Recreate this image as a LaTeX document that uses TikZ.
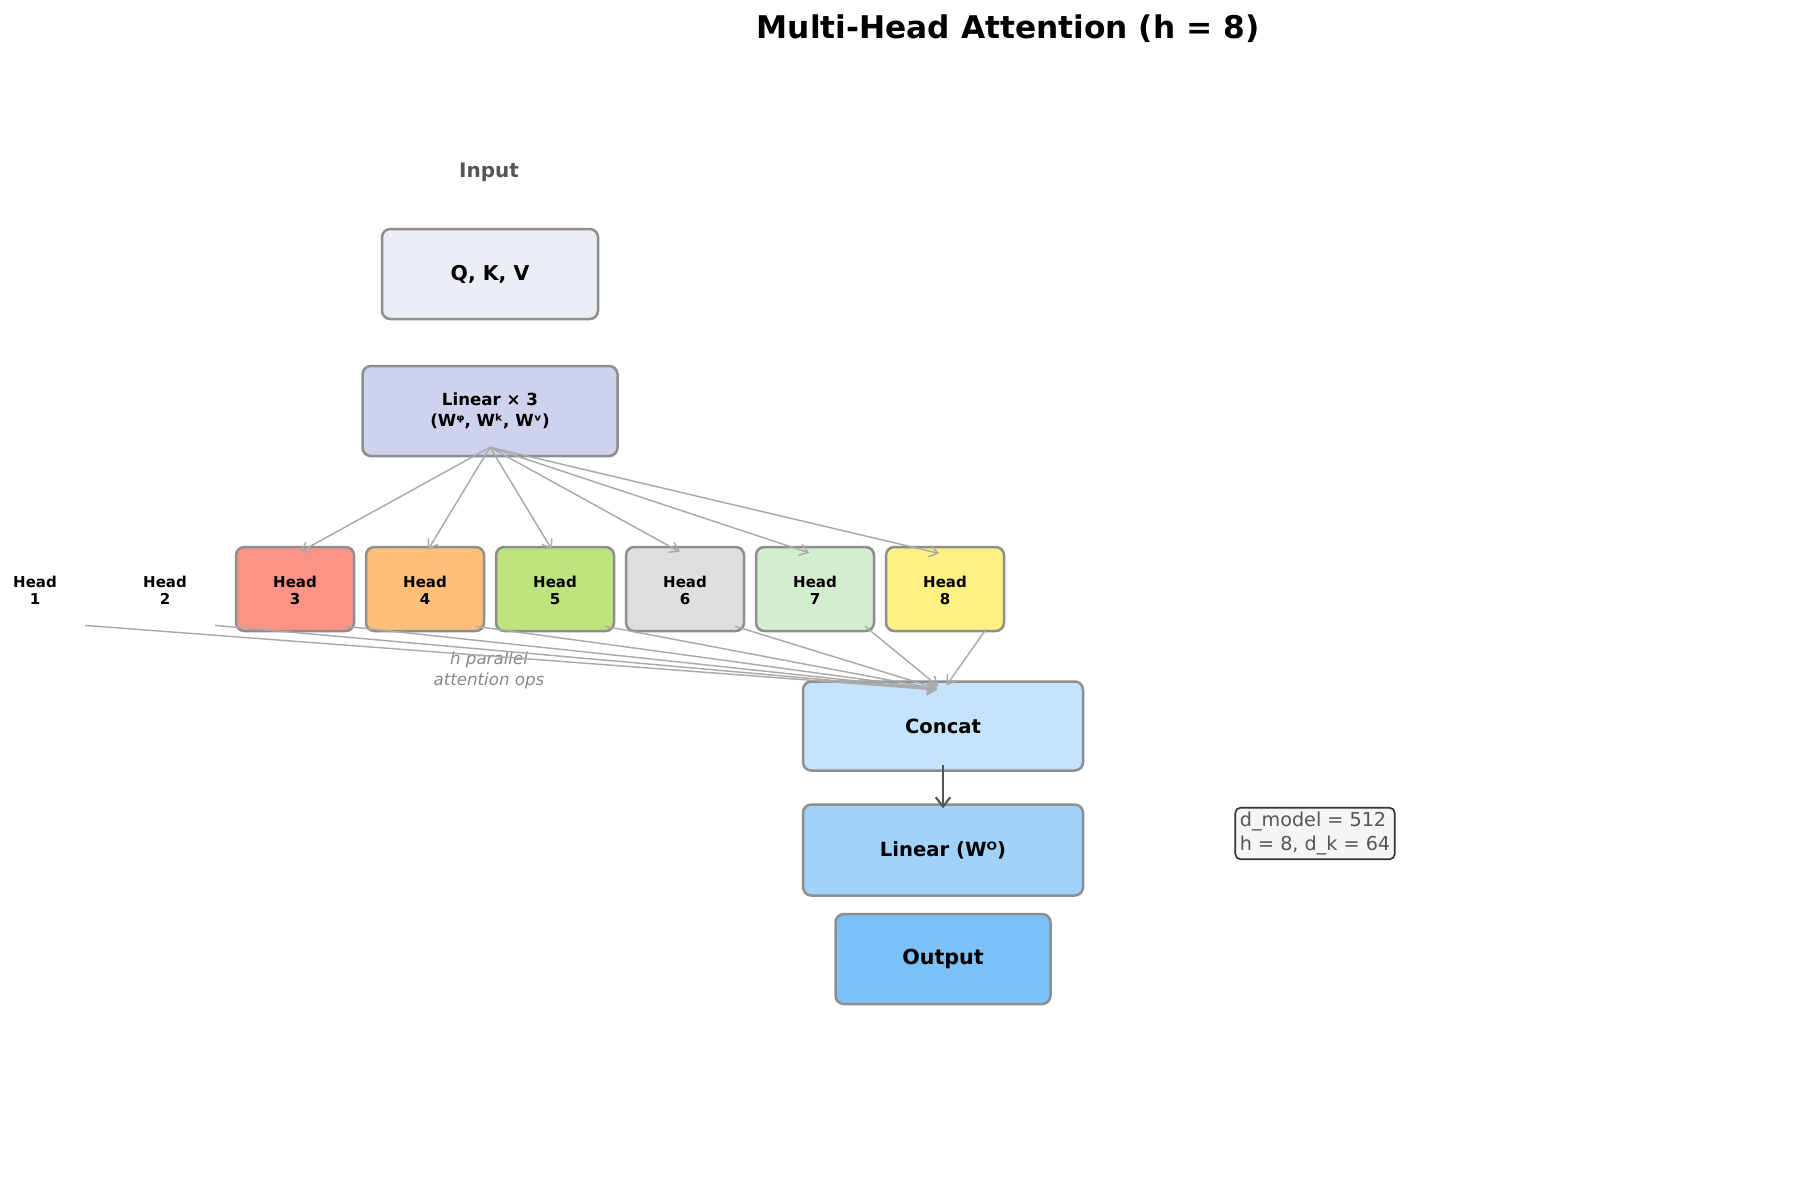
\documentclass[tikz,border=0pt]{standalone}
\usepackage{fontspec}
\setmainfont{DejaVu Sans}
\usetikzlibrary{arrows.meta,calc}
\definecolor{edgegray}{HTML}{8E8E8E}
\definecolor{fangray}{HTML}{AAAAAA}
\definecolor{darkarrow}{HTML}{555555}
\definecolor{qkvfill}{HTML}{EBEDF7}
\definecolor{linfill}{HTML}{CED2EC}
\definecolor{hthree}{HTML}{FB9387}
\definecolor{hfour}{HTML}{FDBF79}
\definecolor{hfive}{HTML}{BEE37F}
\definecolor{hsix}{HTML}{DFDFDF}
\definecolor{hseven}{HTML}{D3EECE}
\definecolor{height}{HTML}{FFF084}
\definecolor{concatfill}{HTML}{C5E3FB}
\definecolor{linofill}{HTML}{A0D2FA}
\definecolor{outfill}{HTML}{7BC0F7}
\definecolor{notefill}{HTML}{F5F5F5}
\definecolor{notetext}{HTML}{555555}
\definecolor{notegray}{HTML}{888888}
\newcommand\headlbl[1]{\rule{0pt}{9.1pt}Head\\\strut #1}
\begin{document}
\begin{tikzpicture}[x=0.48pt,y=-0.48pt,
  box/.style={draw=edgegray,line width=1.2pt,rounded corners=4pt,inner sep=0pt,align=center},
  headbox/.style={box,minimum width=118*0.48pt,minimum height=84*0.48pt,
    font=\fontsize{7.2}{8.4}\selectfont\bfseries},
  headtext/.style={inner sep=0pt,align=center,minimum width=118*0.48pt,minimum height=84*0.48pt,
    font=\fontsize{7.2}{8.4}\selectfont\bfseries},
  fan/.style={draw=fangray,line width=0.7pt,-{Straight Barb[length=4pt,width=5.5pt]}},
  mainarrow/.style={draw=darkarrow,line width=1pt,-{Straight Barb[length=4.5pt,width=7pt]}},
]
\useasboundingbox (0,0) rectangle (1800,1180);

% title
\node[font=\fontsize{15}{18}\selectfont\bfseries] (title) at (1008,29) {Multi-Head Attention (h = 8)};

% input
\node[font=\fontsize{9.6}{11}\selectfont\bfseries,text=notetext] (input) at (489,172) {Input};
\node[box,fill=qkvfill,minimum width=216*0.48pt,minimum height=90*0.48pt,
  font=\fontsize{9.8}{12}\selectfont\bfseries] (qkv) at (490,274) {Q, K, V};
\node[box,fill=linfill,minimum width=255*0.48pt,minimum height=90*0.48pt,
  font=\fontsize{8}{10.1}\selectfont\bfseries] (lin3) at (490,411) {Linear × 3\\(Wᵠ, Wᵏ, Wᵛ)};

% heads
\node[headtext] (h1) at (35,589) {\headlbl{1}};
\node[headtext] (h2) at (165,589) {\headlbl{2}};
\node[headbox,fill=hthree] (h3) at (295,589) {\headlbl{3}};
\node[headbox,fill=hfour] (h4) at (425,589) {\headlbl{4}};
\node[headbox,fill=hfive] (h5) at (555,589) {\headlbl{5}};
\node[headbox,fill=hsix] (h6) at (685,589) {\headlbl{6}};
\node[headbox,fill=hseven] (h7) at (815,589) {\headlbl{7}};
\node[headbox,fill=height] (h8) at (945,589) {\headlbl{8}};

% lower stack
\node[box,fill=concatfill,minimum width=280*0.48pt,minimum height=89*0.48pt,
  font=\fontsize{9.4}{11}\selectfont\bfseries] (concat) at (943,726) {Concat};
\node[box,fill=linofill,minimum width=280*0.48pt,minimum height=91*0.48pt,
  font=\fontsize{9.4}{11}\selectfont\bfseries] (lino) at (943,850) {Linear (Wᴼ)};
\node[box,fill=outfill,minimum width=215*0.48pt,minimum height=90*0.48pt,
  font=\fontsize{9.9}{12}\selectfont\bfseries] (out) at (943,959) {Output};

% annotations
\node[align=center,text=notegray,inner sep=0pt,
  font=\fontsize{8}{10.1}\selectfont\itshape] (par) at (489,670) {h parallel\\attention ops};
\node[draw=black!80,fill=notefill,line width=0.8pt,rounded corners=2.5pt,align=left,
  text=notetext,inner sep=2.2pt,font=\fontsize{9.2}{11.2}\selectfont] (note) at (1315,833.5)
  {d\_model = 512\\h = 8, d\_k = 64};

% fan-out
\coordinate (fo) at ($(lin3.south)+(0,-10)$);
\foreach \h in {3,...,8}{
  \draw[fan,shorten >=2.9pt] (fo) -- ($(h\h.north)+(0,9)$);
}

% fan-in
\coordinate (fi) at ($(concat.north)+(0,10)$);
\foreach \h in {1,...,7}{
  \draw[fan,shorten >=2.9pt] ($(h\h.south)+(50,-6)$) -- (fi);
}
\draw[fan,shorten >=2.9pt] ($(h8.south)+(41,-3)$) -- (fi);

% concat -> linear
\draw[mainarrow] ($(concat.south)+(0,-7)$) -- ($(lino.north)+(0,5)$);
\end{tikzpicture}
\end{document}
